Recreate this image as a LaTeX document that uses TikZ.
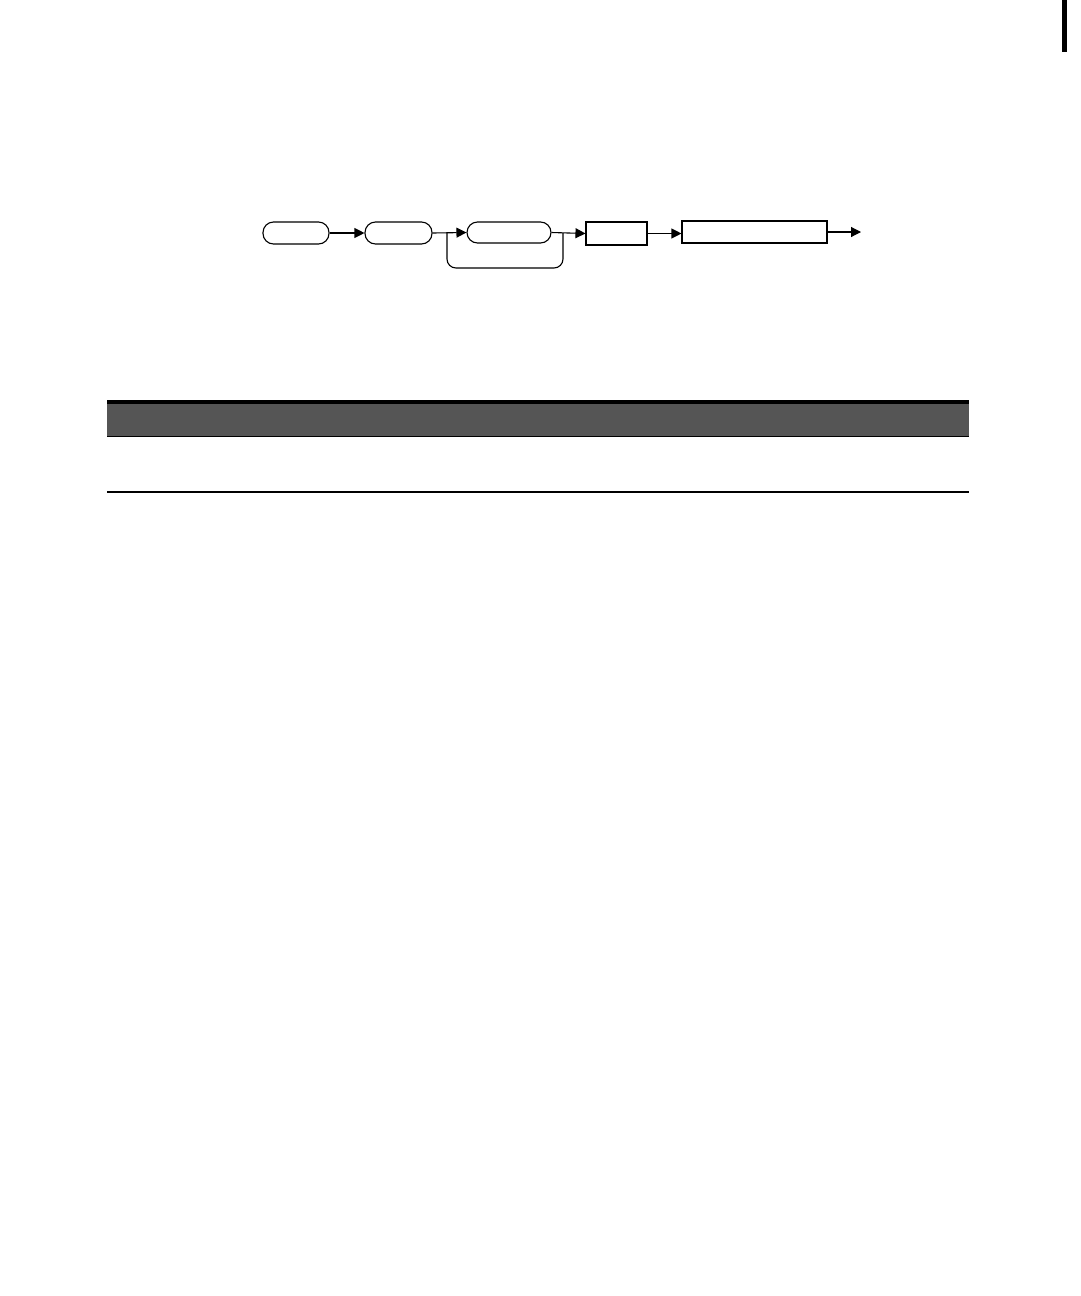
\documentclass[tikz,border=0pt]{standalone}
\usetikzlibrary{arrows.meta}
\definecolor{headgray}{HTML}{555555}
\begin{document}
\begin{tikzpicture}[x=1pt,y=-1pt,
  line width=1.1pt,
  oval/.style={draw,rectangle,rounded corners=10.5pt,inner sep=0pt,minimum height=22pt},
  boxnode/.style={draw,rectangle,inner sep=0pt,minimum height=22pt},
  flow/.style={-{Triangle[length=10pt,width=10pt]}}]
\useasboundingbox (0,0) rectangle (1080,1296);
% nodes
\node[oval,minimum width=66pt] (o1) at (296,233) {};
\node[oval,minimum width=67pt] (o2) at (398.5,233) {};
\node[oval,minimum width=84pt,minimum height=21pt] (o3) at (509,232.5) {};
\node[boxnode,minimum width=61pt,minimum height=23pt] (r1) at (616.5,233.5) {};
\node[boxnode,minimum width=145pt] (r2) at (754.5,232) {};
\coordinate (end) at (861,232);
\coordinate (b1) at (447,233);
\coordinate (b2) at (563,233);
% connectors
\draw[flow] (o1.east) -- (o2.west);
\draw[flow] (o2.east) -- (o3.west);
\draw[flow] (o3.east) -- (r1.west);
\draw[flow] (r1.east) -- (r2.west |- r1.east);
\draw[flow] (r2.east) -- (end);
\draw[rounded corners=9pt] (b1) -- ++(0,35) -- ++(116,0) -- (b2);
% table
\fill[headgray] (107,400) rectangle (969,436);
\fill[black] (107,400) rectangle (969,404);
\draw[line width=1.3pt] (107,436.5) -- (969,436.5);
\draw[line width=1.2pt] (107,492) -- (969,492);
% edge mark
\fill[black] (1062,0) rectangle (1067,52);
\end{tikzpicture}
\end{document}
